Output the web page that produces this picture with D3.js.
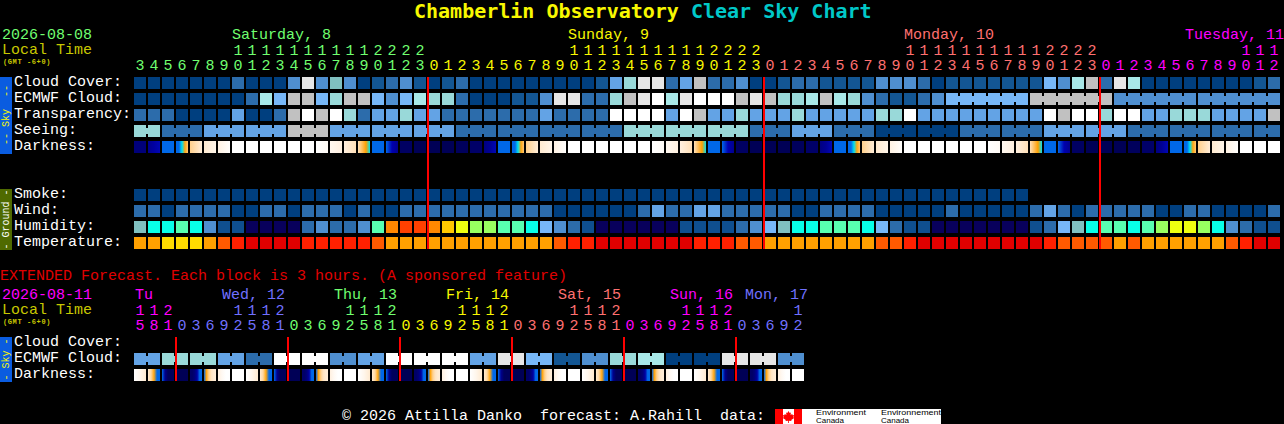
<!DOCTYPE html>
<html><head><meta charset="utf-8">
<style>
html,body{margin:0;padding:0;background:#000;overflow:hidden}
svg{display:block}
text{font-family:"Liberation Mono",monospace;font-size:15px;white-space:pre}
rect.b{shape-rendering:crispEdges}
</style></head><body>
<script src="https://cdn.jsdelivr.net/npm/d3@7"></script>
<script>
const titleParts = [["Chamberlin Observatory ", "#f8f800"], ["Clear Sky Chart", "#00c8c8"]];
const skyLabels = ["Cloud Cover:", "ECMWF Cloud:", "Transparency:", "Seeing:", "Darkness:"];
const groundLabels = ["Smoke:", "Wind:", "Humidity:", "Temperature:"];
const extLabels = ["Cloud Cover:", "ECMWF Cloud:", "Darkness:"];
const mainHours = [3,4,5,6,7,8,9,10,11,12,13,14,15,16,17,18,19,20,21,22,23,
  0,1,2,3,4,5,6,7,8,9,10,11,12,13,14,15,16,17,18,19,20,21,22,23,
  0,1,2,3,4,5,6,7,8,9,10,11,12,13,14,15,16,17,18,19,20,21,22,23,
  0,1,2,3,4,5,6,7,8,9,10,11,12];
const mainDays = [["Saturday, 8",7,"#70ff70"],["Sunday, 9",31,"#f8f800"],["Monday, 10",55,"#ff7070"],["Tuesday, 11",75.07,"#ff00ff"]];
const mainDayColours = [[0,"#70ff70"],[21,"#f8f800"],[45,"#ff7070"],[69,"#ff00ff"]];
const extHours = [15,18,21,0,3,6,9,12,15,18,21,0,3,6,9,12,15,18,21,0,3,6,9,12,15,18,21,0,3,6,9,12,15,18,21,0,3,6,9,12,15,18,21,0,3,6,9,12];
const extDays = [["Tu",0.07,"#ff00ff"],["Wed, 12",6.29,"#7070ff"],["Thu, 13",14.29,"#70ff70"],["Fri, 14",22.29,"#f8f800"],["Sat, 15",30.29,"#ff7070"],["Sun, 16",38.29,"#ff00ff"],["Mon, 17",43.64,"#7070ff"]];
const extDayColours = [[0,"#ff00ff"],[3,"#7070ff"],[11,"#70ff70"],[19,"#f8f800"],[27,"#ff7070"],[35,"#ff00ff"],[43,"#7070ff"]];
const midnightCols = [21,45,69];
const extMidnightCols = [3,11,19,27,35,43];

const cloud = [0,0,0,0,0,0,0,2,0,0,0,3,10,3,8,3,0,1,2,3,1,
  0,1,2,0,0,0,0,0,0,0,0,0,1,4,7,10,10,2,4,9,2,2,3,0,
  0,1,2,2,1,1,1,1,3,3,3,2,0,1,1,1,1,1,1,1,5,3,6,9,
  2,10,6,0,0,0,0,0,0,0,0,1,2];
const ecmwf = [0,0,0,0,0,0,0,0,2,6,5,9,9,5,7,9,9,5,3,5,6,
  7,7,2,0,0,0,1,1,3,10,10,2,2,7,9,10,11,6,10,11,11,11,9,10,
  9,7,7,6,9,6,7,3,2,1,1,2,3,
  5,9,3,3];
const ecmwfSpans = [...Array(58).fill(1),6,6,6,6];
const transparency = [2,2,2,0,0,0,0,4,0,0,2,9,11,9,11,7,2,4,4,7,4,
  4,2,2,2,2,2,2,2,4,2,2,2,2,11,11,11,11,4,11,9,4,4,7,4,
  4,4,7,4,4,4,4,4,7,7,11,4,4,4,4,4,4,4,4,4,11,9,11,11,
  7,11,11,4,4,7,7,7,4,4,4,4,9];
const seeing = [7,2,4,4,9,4,4,4,2,2,2,2,7,7,7,2,4,2,0,0,2,2,4,4,2,2,2,2];
const seeingSpans = [2,3,3,3,3,3,3,3,3,3,3,3,3,3,3,3,3,3,3,3,3,3,3,3,3,3,3,2];
const smoke = [0,0,0,0,0,0,0,0,0,0,0,0,0,0,0,0,0,0,0,0,0,0,0,0,0,0,0,0,0,0,0,0,
  0,0,0,0,0,0,0,0,0,0,0,0,0,0,0,0,0,0,0,0,0,0,0,0,0,0,0,0,0,0,0,0];
const wind = [2,2,0,2,2,2,2,0,0,2,2,0,2,2,2,0,2,0,0,2,2,
  2,2,2,2,2,2,2,2,2,0,0,0,0,0,0,2,4,2,2,4,4,2,2,2,
  2,2,0,0,2,2,2,2,0,0,0,0,0,2,0,0,0,0,0,2,4,2,0,2,
  2,2,2,2,0,0,2,2,0,0,0,0,2];
const humidity = [5,6,6,7,6,3,1,1,0,0,0,0,2,3,2,2,3,7,11,12,12,
  11,10,9,8,8,7,7,6,4,3,2,1,0,0,0,0,0,0,1,1,1,1,2,3,
  4,5,6,6,7,7,7,6,4,2,1,1,0,0,0,0,0,0,0,1,2,4,5,6,
  7,7,6,7,8,9,9,8,6,3,2,1,1];
const temperature = [0,0,1,1,1,0,2,3,4,4,4,4,3,3,3,3,3,2,0,0,0,
  0,0,0,0,0,0,0,0,0,2,3,3,4,4,4,4,4,4,4,3,3,3,2,2,
  0,0,0,0,0,0,0,0,2,2,3,4,4,4,4,4,4,4,4,4,3,2,2,2,
  2,0,2,0,0,0,0,0,0,2,3,4,4];
const darkness = [[5.3],[5,4.7,4.4],[3],[3,3,1.5,-0.6,-1.4],[-1.6,-2.8],[-2.6,-3.3],[-3.1,-3.9],[-4],[-4],[-4],[-4],[-4],[-4],[-4,-3.7],[-3.5,-3],[-3,-2],[-2,-1.2,-0.5,1.5],[3],[3,4.5,5],[5.7],[5.9],
  [5.9],[5.9],[5.8],[5.6],[5.2,4.9,4.4],[3],[3,3,1.5,-0.6,-1.4],[-1.6,-2.8],[-2.6,-3.3],[-3.1,-3.9],[-4],[-4],[-4],[-4],[-4],[-4],[-4,-3.7],[-3.5,-3],[-3,-2],[-2,-1.2,-0.5,1.5],[3],[3,4.5,5],[5.7],[5.9],
  [5.9],[5.9],[5.8],[5.6],[5.2,4.9,4.4],[3],[3,3,1.5,-0.6,-1.4],[-1.6,-2.8],[-2.6,-3.3],[-3.1,-3.9],[-4],[-4],[-4],[-4],[-4],[-4],[-4,-3.7],[-3.5,-3],[-3,-2],[-2,-1.2,-0.5,1.5],[3],[3,4.5,5],[5.7],[5.9],
  [5.9],[5.9],[5.8],[5.6],[5.2,4.9,4.4],[3],[3,3,1.5,-0.6,-1.4],[-1.6,-2.8],[-2.6,-3.3],[-3.1,-3.9],[-4],[-4],[-4]];
const ecmwfExt = [4,7,7,4,2,11,11,3,4,11,11,11,4,10,5,1,3,7,6,0,0,10,10,3];
const ecmwfExtSpans = Array(24).fill(2);
const darknessExt = [[-4,-3.4,-2.6],[-2.6,-1.8,-0.6,3,3],[3,5,5.8,5.8,5.8],[5.9],[5.6,5.6,5.3,4.7,3,3],[3,-0.6,-1.6,-2.2,-2.6,-2.8],[-3,-3.6,-4,-4],[-4],
  [-4,-3.4,-2.6],[-2.6,-1.8,-0.6,3,3],[3,5,5.8,5.8,5.8],[5.9],[5.6,5.6,5.3,4.7,3,3],[3,-0.6,-1.6,-2.2,-2.6,-2.8],[-3,-3.6,-4,-4],[-4],
  [-4,-3.4,-2.6],[-2.6,-1.8,-0.6,3,3],[3,5,5.8,5.8,5.8],[5.9],[5.6,5.6,5.3,4.7,3,3],[3,-0.6,-1.6,-2.2,-2.6,-2.8],[-3,-3.6,-4,-4],[-4],
  [-4,-3.4,-2.6],[-2.6,-1.8,-0.6,3,3],[3,5,5.8,5.8,5.8],[5.9],[5.6,5.6,5.3,4.7,3,3],[3,-0.6,-1.6,-2.2,-2.6,-2.8],[-3,-3.6,-4,-4],[-4],
  [-4,-3.4,-2.6],[-2.6,-1.8,-0.6,3,3],[3,5,5.8,5.8,5.8],[5.9],[5.6,5.6,5.3,4.7,3,3],[3,-0.6,-1.6,-2.2,-2.6,-2.8],[-3,-3.6,-4,-4],[-4],
  [-4,-3.4,-2.6],[-2.6,-1.8,-0.6,3,3],[3,5,5.8,5.8,5.8],[5.9],[5.6,5.6,5.3,4.7,3,3],[3,-0.6,-1.6,-2.2,-2.6,-2.8],[-3,-3.6,-4,-4],[-4]];

const skyColour = d3.scaleOrdinal(d3.range(12),
  ["#003f7f","#135693","#2c6cab","#4f8fd0","#63a3e5","#77b7f7","#a8e8e8","#99d9d9","#80c0c0","#c1c1c1","#e6e6e6","#ffffff"]);
const humidColour = d3.scaleOrdinal(d3.range(13),
  ["#08005c","#0f4f8f","#2c6cab","#4f8fd0","#77b7f7","#80c0c0","#08ffe8","#58ffb0","#98ff60","#eeff10","#ffc800","#ff8800","#ff4000"]);
const tempColour = d3.scaleOrdinal(d3.range(5), ["#ffa000","#ffdc00","#ff5a00","#ff2000","#e00000"]);
const darkColour = d3.scaleLinear()
  .domain([-4,-3,-2,-1.2,-0.5,0.5,1.5,3,3.6,4.5,5.2,6])
  .range(["#ffffff","#fff0e0","#ffe0b8","#ffc060","#ffa000","#40c080","#00e0f0","#0068e8","#0040e0","#0000b0","#000080","#000050"])
  .clamp(true);

const STEP = 14, BLOCK = 12;
const x = d3.scaleLinear().domain([0,82]).range([134,134+82*STEP]);
const yMain = d3.scaleLinear().domain([0,10]).range([77,237]);
const yExt = d3.scaleLinear().domain([0,2]).range([337,369]);

const svg = d3.select("body").append("svg").attr("width",1284).attr("height",424);
const defs = svg.append("defs");
let gradId = 0;

function label(t, lx, ly, colour){
  return svg.append("text").attr("x",lx).attr("y",ly-1).attr("fill",colour).text(t);
}
function tiny(t, lx, ly){
  return svg.append("text").attr("x",lx).attr("y",ly).attr("fill","#c8c800")
    .style("font-size","7px").style("font-weight","bold").style("letter-spacing","0.6px").text(t);
}
function drawRow(values, yy, colour, spans){
  let col = 0;
  const g = svg.append("g");
  values.forEach((v,i)=>{
    const n = spans ? spans[i] : 1;
    for(let k=0;k<n;k++){
      g.append("rect").attr("class","b").attr("x",x(col+k)).attr("y",yy).attr("width",BLOCK).attr("height",BLOCK).attr("fill",colour(v));
      if(k<n-1) g.append("rect").attr("class","b").attr("x",x(col+k)+BLOCK).attr("y",yy+3).attr("width",STEP-BLOCK).attr("height",BLOCK-6).attr("fill",colour(v));
    }
    col += n;
  });
}
function drawDark(samples, yy){
  const g = svg.append("g");
  samples.forEach((s,i)=>{
    const id = "d"+(gradId++);
    const lg = defs.append("linearGradient").attr("id",id);
    (s.length>1?s:[s[0],s[0]]).forEach((v,j,a)=>{
      lg.append("stop").attr("offset",j/(a.length-1)).attr("stop-color",darkColour(v));
    });
    g.append("rect").attr("class","b").attr("x",x(i)).attr("y",yy).attr("width",BLOCK).attr("height",BLOCK).attr("fill",`url(#${id})`);
  });
}
function colourAt(table,i){ return table.filter(d=>d[0]<=i).pop()[1]; }
function hourText(hours, table, yTens, yUnits){
  hours.forEach((h,i)=>{
    const c = colourAt(table,i);
    if(h>=10) svg.append("text").attr("x",x(i)+6).attr("y",yTens).attr("text-anchor","middle").attr("fill",c).text(Math.floor(h/10));
    svg.append("text").attr("x",x(i)+6).attr("y",yUnits).attr("text-anchor","middle").attr("fill",c).text(h%10);
  });
}
function sideBar(y0,y1,colour,text,textColour,textStart){
  svg.append("rect").attr("class","b").attr("x",0).attr("y",y0).attr("width",12).attr("height",y1-y0).attr("fill",colour);
  svg.append("text").attr("transform",`translate(9,${textStart}) rotate(-90)`)
    .attr("fill",textColour).style("font-size","10px").text(text);
}

const title = svg.append("text").attr("x",414).attr("y",18)
  .style("font-family","'DejaVu Sans Mono'").style("font-size","20px").style("font-weight","bold");
titleParts.forEach(([t,c])=>title.append("tspan").attr("fill",c).text(t));

label("2026-08-08",2,40,"#70ff70");
label("Local Time",2,55,"#c8c800");
tiny("(GMT -6+0)",3,64);
mainDays.forEach(([t,c,col])=>label(t,x(c),40,col));
hourText(mainHours,mainDayColours,55,70);

sideBar(77,154,"#0a5ce0","-- Sky  --","#f8f800",145);
sideBar(189,250,"#4f6a00","- Ground -","#ffffff",249.5);
skyLabels.forEach((t,i)=>label(t,14,yMain(i)+10,"#ffffff"));
groundLabels.forEach((t,i)=>label(t,14,yMain(i+7)+10,"#ffffff"));
drawRow(cloud,yMain(0),skyColour);
drawRow(ecmwf,yMain(1),skyColour,ecmwfSpans);
drawRow(transparency,yMain(2),skyColour);
drawRow(seeing,yMain(3),skyColour,seeingSpans);
drawDark(darkness,yMain(4));
drawRow(smoke,yMain(7),skyColour);
drawRow(wind,yMain(8),skyColour);
drawRow(humidity,yMain(9),humidColour);
drawRow(temperature,yMain(10),tempColour);
midnightCols.forEach(c=>svg.append("rect").attr("class","b").attr("x",x(c)-1).attr("y",yMain(0)).attr("width",2).attr("height",yMain(10)+12-yMain(0)).attr("fill","#ff0000"));

label("EXTENDED Forecast. Each block is 3 hours. (A sponsored feature)",0,281,"#e00000");
label("2026-08-11",2,300,"#ff00ff");
label("Local Time",2,315,"#c8c800");
tiny("(GMT -6+0)",3,324);
extDays.forEach(([t,c,col])=>label(t,x(c),300,col));
hourText(extHours,extDayColours,315,330);
sideBar(337,382,"#0a5ce0","- Sky -","#f8f800",380.5);
extLabels.forEach((t,i)=>label(t,14,yExt(i)+10,"#ffffff"));
drawRow(ecmwfExt,yExt(1),skyColour,ecmwfExtSpans);
drawDark(darknessExt,yExt(2));
extMidnightCols.forEach(c=>svg.append("rect").attr("class","b").attr("x",x(c)-1).attr("y",yExt(0)).attr("width",2).attr("height",yExt(2)+12-yExt(0)).attr("fill","#ff0000"));

label("\u00a9 2026 Attilla Danko  forecast: A.Rahill  data:",342,421,"#ffffff");
svg.append("rect").attr("class","b").attr("x",775).attr("y",409).attr("width",166).attr("height",15).attr("fill","#fff");
svg.append("rect").attr("class","b").attr("x",775).attr("y",409).attr("width",8).attr("height",15).attr("fill","#f00");
svg.append("rect").attr("class","b").attr("x",794).attr("y",409).attr("width",8).attr("height",15).attr("fill","#f00");
svg.append("path").attr("fill","#f00").attr("d","M788.5 411 l1.2 2 1.2 -.5 -.3 2.6 1.6 -1 .5 1.2 1.3 -.2 -.6 2.2 .8 .6 -3 2 .3 1.2 -2.6 -.3 v2.2 h-.8 v-2.2 l-2.6 .3 .3 -1.2 -3 -2 .8 -.6 -.6 -2.2 1.3 .2 .5 -1.2 1.6 1 -.3 -2.6 1.2 .5 z");
[["Environment",816,415,50],["Canada",816,423,28],["Environnement",881,415,60],["Canada",881,423,28]].forEach(([t,lx,ly,w])=>{
  svg.append("text").attr("x",lx).attr("y",ly).attr("fill","#000").attr("textLength",w).attr("lengthAdjust","spacingAndGlyphs")
    .style("font-size","8px").style("font-family","'Liberation Sans'").text(t);
});
</script>
</body></html>
